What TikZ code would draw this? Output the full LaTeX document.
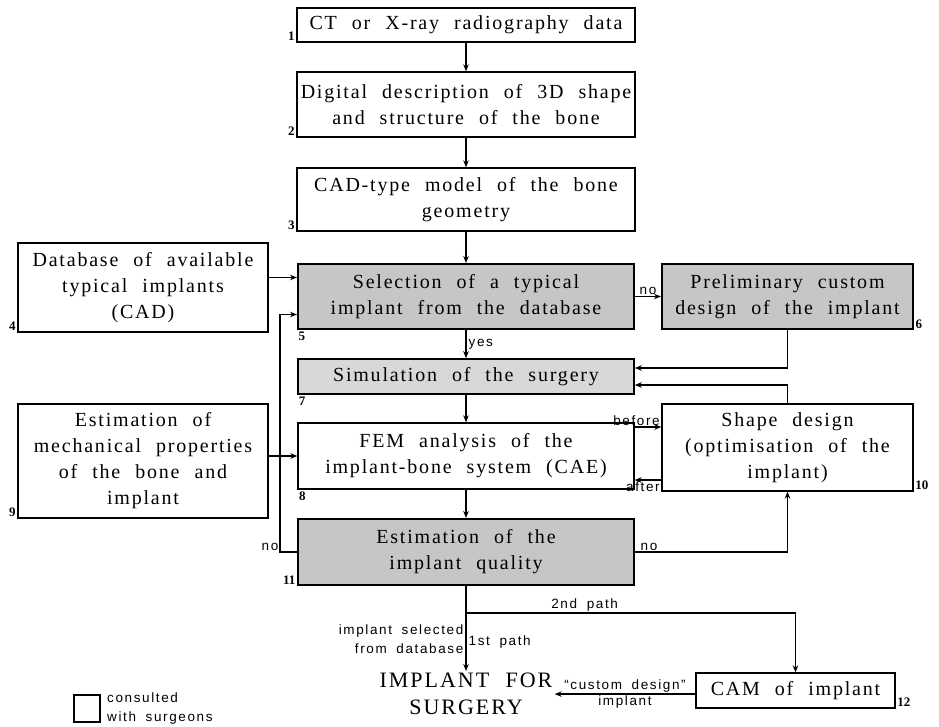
\documentclass[tikz,border=0pt]{standalone}
\usepackage{fontspec}
\setmainfont{Liberation Serif}
\newfontfamily\boxfont[LetterSpace=9, WordSpace=2.2]{Liberation Serif}
\newfontfamily\tagfont[LetterSpace=12, WordSpace=1.8]{Liberation Sans}
\usepackage{tikz}
\usetikzlibrary{arrows.meta}
\definecolor{darkshade}{RGB}{198,198,198}
\definecolor{lightshade}{RGB}{216,216,216}

\tikzset{
  box/.style={draw, line width=1.3pt, align=center, inner sep=0pt, font=\boxfont\fontsize{20}{26}\selectfont},
  keybox/.style={box, fill=darkshade, line width=2pt},
  num/.style={font=\bfseries\fontsize{13}{13}\selectfont, inner sep=1.5pt},
  tag/.style={font=\tagfont\fontsize{13.5}{19}\selectfont, inner sep=2pt},
  arr/.style={-{Stealth[length=7pt,width=5.5pt]}, line width=1.3pt},
}

\begin{document}
\begin{tikzpicture}[x=1pt, y=-1pt]
\useasboundingbox (0,0) rectangle (939,726);

% Main column
\node[box, minimum width=338pt, minimum height=34pt] (ct) at (466,25) {CT or X-ray radiography data};
\node[box, minimum width=338pt, minimum height=65pt] (digital) at (466,104.5) {Digital description of 3D shape\\and structure of the bone};
\node[box, minimum width=338pt, minimum height=63pt] (cadmodel) at (466,199.5) {CAD-type model of the bone\\geometry};
\node[keybox, minimum width=336pt, minimum height=65pt] (selection) at (466,296.5) {Selection of a typical\\implant from the database};
\node[box, fill=lightshade, line width=1.6pt, minimum width=336pt, minimum height=35pt] (simulation) at (466,376.5) {Simulation of the surgery};
\node[box, minimum width=336pt, minimum height=66pt] (fem) at (466,456) {FEM analysis of the\\implant-bone system (CAE)};
\node[keybox, minimum width=336pt, minimum height=66pt] (quality) at (466,552) {Estimation of the\\implant quality};
\node[font=\boxfont\fontsize{22}{27}\selectfont, align=center, anchor=north, inner sep=2pt] (implant) at (466,671) {IMPLANT FOR\\SURGERY};

% Side boxes
\node[box, minimum width=250pt, minimum height=89pt] (database) at (143,287.5) {Database of available\\typical implants\\(CAD)};
\node[box, minimum width=250pt, minimum height=114pt] (mechanical) at (143,461) {Estimation of\\mechanical properties\\of the bone and\\implant};
\node[keybox, minimum width=251pt, minimum height=65pt] (prelim) at (787.5,296.5) {Preliminary custom\\design of the implant};
\node[box, minimum width=251pt, minimum height=87pt] (shape) at (787.5,447.5) {Shape design\\(optimisation of the\\implant)};
\node[box, font=\boxfont\fontsize{20}{26}\selectfont, minimum width=199pt, minimum height=35pt] (cam) at (795.5,690.5) {CAM of implant};

% Numbers
\node[num, anchor=south east] (n1) at (ct.south west) {1};
\node[num, anchor=south east] (n2) at (digital.south west) {2};
\node[num, anchor=south east] (n3) at (cadmodel.south west) {3};
\node[num, anchor=south east] (n4) at (database.south west) {4};
\node[num, anchor=north west] (n5) at (selection.south west) {5};
\node[num, anchor=south west] (n6) at (prelim.south east) {6};
\node[num, anchor=north west] (n7) at (simulation.south west) {7};
\node[num, anchor=north west] (n8) at (fem.south west) {8};
\node[num, anchor=south east] (n9) at (mechanical.south west) {9};
\node[num, anchor=south west] (n10) at (shape.south east) {10};
\node[num, anchor=south east] (n11) at (quality.south west) {11};
\node[num, anchor=south west] (n12) at (cam.south east) {12};

% Arrows
\draw[arr] (ct) -- (digital);
\draw[arr] (digital) -- (cadmodel);
\draw[arr] (cadmodel) -- (selection);
\draw[arr] ([yshift=10pt]database.east) -- ([yshift=10pt]database.east -| selection.west);
\draw[arr] (selection) -- (prelim) node[tag, pos=0.5, above, inner sep=1pt] {no};
\draw[arr] (selection) -- (simulation) node[tag, midway, right] {yes};
\draw[arr] (prelim.south) |- ([yshift=8.5pt]simulation.east);
\draw[arr] (shape.north) |- ([yshift=-8.5pt]simulation.east);
\draw[arr] (simulation) -- (fem);
\draw[arr] (fem.west -| mechanical.east) -- (fem.west);
\draw[arr] ([yshift=29pt]fem.east) -- ([yshift=29pt]fem.east -| shape.west) node[tag, pos=1, anchor=south east, inner sep=1pt] {before};
\draw[arr] ([yshift=-24pt]fem.east -| shape.west) -- ([yshift=-24pt]fem.east) node[tag, pos=0, anchor=north east, inner sep=1pt] {after};
\draw[arr] (fem) -- (quality);
\draw[arr] (quality.west) -- ++(-17,0) node[tag, anchor=south east, inner sep=1pt] {no} |- ([yshift=-18pt]selection.west);
\draw[arr] (quality.east) -| (shape.south) node[tag, pos=0, anchor=south west, xshift=4pt, inner sep=1pt] {no};

% Output paths
\coordinate (fork) at (466,613);
\draw[arr] (quality.south) -- (implant.north)
  node[tag, pos=0.66, right] {1st path}
  node[tag, pos=0.62, left, align=right] {implant selected\\from database};
\draw[arr] (fork) -| (cam.north) node[tag, pos=0.18, above, inner sep=1pt] {2nd path};
\draw[arr] (implant.east -| cam.west) -- (implant.east)
  node[tag, midway, above, inner sep=1pt] {“custom design”}
  node[tag, midway, below, inner sep=1pt] {implant};

% Legend
\node[draw, line width=1.2pt, minimum width=26pt, minimum height=27pt, inner sep=0pt] (legend) at (87,708.5) {};
\node[tag, anchor=west, align=left, inner sep=0pt] (legendtext) at (107,708) {consulted\\with surgeons};
\end{tikzpicture}
\end{document}
